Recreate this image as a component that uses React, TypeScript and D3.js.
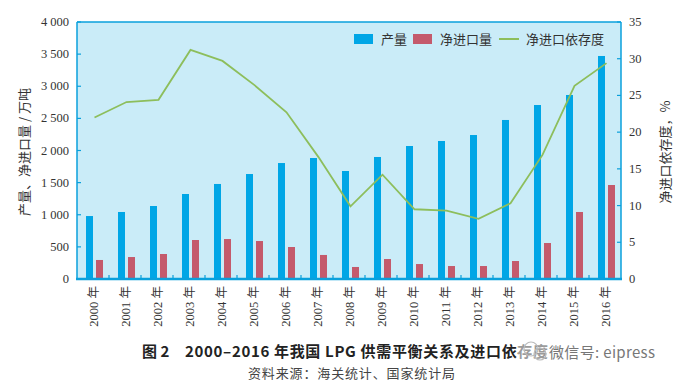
import React from 'react';
import * as d3 from 'd3';

const years = ['2000', '2001', '2002', '2003', '2004', '2005', '2006', '2007', '2008', '2009', '2010', '2011', '2012', '2013', '2014', '2015', '2016'];
const output = [980, 1043, 1136, 1323, 1479, 1634, 1805, 1883, 1681, 1899, 2070, 2148, 2241, 2475, 2708, 2864, 3471];
const netImport = [296, 342, 389, 607, 622, 591, 498, 374, 187, 311, 233, 202, 202, 280, 560, 1043, 1463];
const dependence = [22.0, 24.1, 24.4, 31.2, 29.7, 26.4, 22.7, 16.6, 9.9, 14.2, 9.5, 9.3, 8.2, 10.3, 16.9, 26.3, 29.4];
const leftTicks = [0, 500, 1000, 1500, 2000, 2500, 3000, 3500, 4000];
const rightTicks = [0, 5, 10, 15, 20, 25, 30, 35];

const AXIS = '#0aa0dc';
const BLUE = '#00a6e6';
const RED = '#c45a6c';
const GREEN = '#8dbe5c';
const SERIF = '"Liberation Serif", "Noto Sans CJK SC", serif';
const CJK = '"Noto Sans CJK SC", sans-serif';

const fmt = (v: number) => (v >= 1000 ? `${Math.floor(v / 1000)} ${String(v % 1000).padStart(3, '0')}` : String(v));

export default function App() {
  const left = 77, right = 621, top = 22, bottom = 279;

  const x = d3.scaleBand().domain(years).range([left, right]);
  const y = d3.scaleLinear().domain([0, 4000]).range([bottom, top]);
  const y2 = d3.scaleLinear().domain([0, 35]).range([bottom, top]);
  const bw = 7;

  const line = d3.line<number>()
    .x((_, i) => x(years[i])! + x.bandwidth() / 2 + 1.5)
    .y(d => y2(d));

  return (
    <svg width={676} height={388} style={{ position: 'absolute', left: 0, top: 0, background: '#fff' }}>
      <rect x={left} y={top} width={right - left} height={bottom - top} fill="#caecf8" />

      {years.map((yr, i) => (
        <g key={yr}>
          <rect x={x(yr)! + 9} y={y(output[i])} width={bw} height={bottom - y(output[i])} fill={BLUE} />
          <rect x={x(yr)! + 19} y={y(netImport[i])} width={bw} height={bottom - y(netImport[i])} fill={RED} />
        </g>
      ))}

      <path d={line(dependence)!} fill="none" stroke={GREEN} strokeWidth={1.8} />

      {/* frame */}
      <line x1={left} x2={right} y1={top} y2={top} stroke={AXIS} strokeWidth={1.5} />
      <line x1={left} x2={left} y1={top} y2={bottom} stroke={AXIS} strokeWidth={1.5} />
      <line x1={right} x2={right} y1={top} y2={bottom} stroke={AXIS} strokeWidth={1.5} />
      <line x1={left - 1} x2={right + 1} y1={bottom} y2={bottom} stroke={AXIS} strokeWidth={2.5} />

      {/* x ticks */}
      {years.slice(1).map(yr => (
        <line key={'xt' + yr} x1={x(yr)!} x2={x(yr)!} y1={bottom} y2={bottom - 4} stroke={AXIS} strokeWidth={1.2} />
      ))}
      {years.map(yr => (
        <text key={'xl' + yr} transform={`translate(${x(yr)! + x.bandwidth() / 2 + 5},${bottom + 7}) rotate(-90)`}
          textAnchor="end" fontFamily={SERIF} fontSize={12.5} fill="#333">
          {yr} <tspan fontFamily={CJK}>年</tspan>
        </text>
      ))}

      {/* left axis */}
      {leftTicks.map(t => (
        <g key={'l' + t}>
          <line x1={left} x2={left + 4} y1={y(t)} y2={y(t)} stroke={AXIS} strokeWidth={1.2} />
          <text x={69} y={y(t) + 4} textAnchor="end" fontFamily={SERIF} fontSize={12.5} fill="#333">{fmt(t)}</text>
        </g>
      ))}
      {/* right axis */}
      {rightTicks.map(t => (
        <g key={'r' + t}>
          <line x1={right - 4} x2={right} y1={y2(t)} y2={y2(t)} stroke={AXIS} strokeWidth={1.2} />
          <text x={629} y={y2(t) + 4} textAnchor="start" fontFamily={SERIF} fontSize={12.5} fill="#333">{t}</text>
        </g>
      ))}

      <text transform="translate(29,152) rotate(-90)" textAnchor="middle" fontFamily={CJK} fontSize={13} fill="#333">
        产量、净进口量 / 万吨
      </text>
      <text transform="translate(670,152) rotate(-90)" textAnchor="middle" fontFamily={CJK} fontSize={13} fill="#333">
        净进口依存度，%
      </text>

      {/* legend */}
      <rect x={354} y={34} width={19} height={10} fill={BLUE} />
      <text x={381} y={44} fontFamily={CJK} fontSize={13} fill="#333">产量</text>
      <rect x={413} y={34} width={19} height={10} fill={RED} />
      <text x={440} y={44} fontFamily={CJK} fontSize={13} fill="#333">净进口量</text>
      <line x1={499} x2={519} y1={39} y2={39} stroke={GREEN} strokeWidth={2} />
      <text x={526} y={44} fontFamily={CJK} fontSize={13} fill="#333">净进口依存度</text>

      {/* caption */}
      <text x={142} y={357} fontFamily={CJK} fontSize={15} fontWeight="bold" fill="#222">图 2</text>
      <text x={185} y={357} fontFamily={CJK} fontSize={15} fontWeight="bold" fill="#222"
        textLength={363} lengthAdjust="spacing">
        2000–2016 年我国 LPG 供需平衡关系及进口依存度
      </text>
      <text x={248} y={378} fontFamily={CJK} fontSize={13} fill="#444" textLength={207} lengthAdjust="spacing">
        资料来源：海关统计、国家统计局
      </text>

      {/* watermark */}
      <rect x={518} y={340} width={150} height={24} fill="#fff" opacity={0.55} />
      <circle cx={531} cy={349} r={7} fill="none" stroke="#bbb" strokeWidth={1.2} />
      <circle cx={540} cy={354} r={6} fill="none" stroke="#bbb" strokeWidth={1.2} />
      <text x={549} y={358} fontFamily={CJK} fontSize={15} fill="#777" textLength={106} lengthAdjust="spacing">微信号: eipress</text>
    </svg>
  );
}
